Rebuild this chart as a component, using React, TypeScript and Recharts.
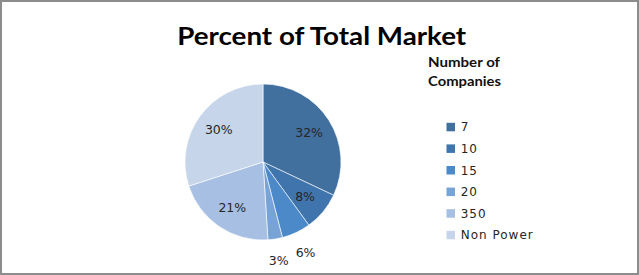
import React from 'react';
import { PieChart, Pie, Cell, Legend } from 'recharts';

const companies = ['7', '10', '15', '20', '350', 'Non Power'];
const shares = [32, 8, 6, 3, 21, 30];
const colors = ['#41709F', '#3F74AC', '#4C89C9', '#77A3D7', '#A6BFE2', '#C6D5EA'];
const chartTitle = 'Percent of Total Market';
const legendTitle = ['Number of', 'Companies'];

const data = companies.map((name, i) => ({ name, value: shares[i] }));

const RADIAN = Math.PI / 180;

const renderLabel = (props: any) => {
  const { cx, cy, midAngle, outerRadius, percent } = props;
  const r = percent < 0.07 ? outerRadius + 22 : outerRadius * 0.7;
  const x = cx + r * Math.cos(-midAngle * RADIAN);
  const y = cy + r * Math.sin(-midAngle * RADIAN);
  return (
    <text
      x={x}
      y={y}
      fill="#262626"
      fontFamily="'DejaVu Sans', sans-serif"
      fontSize={12.5}
      textAnchor="middle"
      dominantBaseline="central"
    >
      {`${Math.round(percent * 100)}%`}
    </text>
  );
};

const renderLegend = () => {
  return (
    <svg width={200} height={210} style={{ display: 'block' }}>
      <text x={8} y={17.3} fontFamily="Lato, sans-serif" fontWeight="bold" fontSize={13} fill="#111" textLength={72} lengthAdjust="spacingAndGlyphs">
        {legendTitle[0]}
      </text>
      <text x={8} y={36} fontFamily="Lato, sans-serif" fontWeight="bold" fontSize={13} fill="#111" textLength={73} lengthAdjust="spacingAndGlyphs">
        {legendTitle[1]}
      </text>
      {companies.map((name, i) => (
        <g key={name}>
          <rect x={26.5} y={72.8 + i * 21.6} width={8.5} height={8.5} fill={colors[i]} />
          <text
            x={40.7}
            y={81.3 + i * 21.6}
            fontFamily="'DejaVu Sans', sans-serif"
            fontSize={12}
            letterSpacing={1}
            fill="#262626"
          >
            {name}
          </text>
        </g>
      ))}
    </svg>
  );
};

export default function App() {
  return (
    <div style={{ position: 'absolute', left: 0, top: 0, width: 639, height: 275, background: '#fff' }}>
      <svg width={639} height={275} style={{ position: 'absolute', left: 0, top: 0 }}>
        <text
          x={321.7}
          y={45}
          textAnchor="middle"
          fontFamily="Lato, sans-serif"
          fontWeight="bold"
          fontSize={25}
          fill="#000"
          textLength={289}
          lengthAdjust="spacingAndGlyphs"
        >
          {chartTitle}
        </text>
      </svg>
      <div style={{ position: 'absolute', left: 0, top: 0 }}>
        <PieChart width={639} height={275} margin={{ top: 0, right: 0, bottom: 0, left: 0 }}>
          <Pie
            data={data}
            dataKey="value"
            nameKey="name"
            cx={263}
            cy={162}
            outerRadius={78}
            startAngle={90}
            endAngle={-270}
            stroke="#ffffff"
            strokeWidth={0.6}
            label={renderLabel}
            labelLine={false}
            isAnimationActive={false}
          >
            {data.map((d, i) => (
              <Cell key={d.name} fill={colors[i]} />
            ))}
          </Pie>
          <Legend
            content={renderLegend}
            layout="vertical"
            verticalAlign="top"
            align="right"
            wrapperStyle={{ position: 'absolute', left: 420, top: 50, width: 200, height: 210 }}
          />
        </PieChart>
      </div>
      <div
        style={{
          position: 'absolute',
          left: 0,
          top: 0,
          width: 639,
          height: 275,
          boxSizing: 'border-box',
          border: '2px solid #8c8c8c',
          pointerEvents: 'none',
        }}
      />
    </div>
  );
}
